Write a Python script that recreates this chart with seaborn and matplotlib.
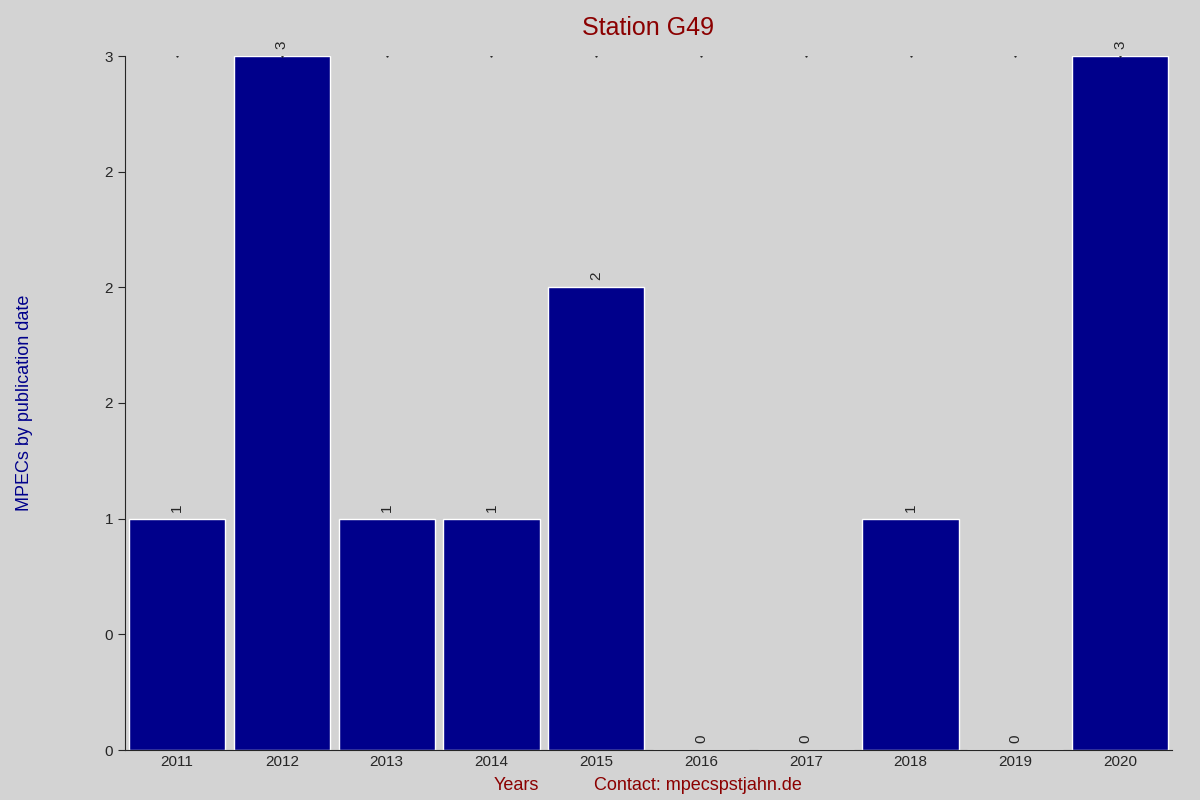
import matplotlib
matplotlib.use("Agg")
import matplotlib.pyplot as plt
import seaborn as sns
import pandas as pd

years = ["2011","2012","2013","2014","2015","2016","2017","2018","2019","2020"]
counts = [1,3,1,1,2,0,0,1,0,3]
ytick_vals = [0,0.5,1,1.5,2,2.5,3]
ytick_labels = ["0","0","1","2","2","2","3"]

sns.set_style("ticks")
plt.rcParams['font.family'] = ['Liberation Sans', 'DejaVu Sans']
df = pd.DataFrame({"year": years, "count": counts})

fig = plt.figure(figsize=(12, 8), dpi=100, facecolor="#d3d3d3")
ax = fig.add_axes([0.104, 0.0625, 0.873, 0.8675])
ax.set_facecolor("#d3d3d3")
sns.barplot(data=df, x="year", y="count", color="#00008b", width=0.92, ax=ax, saturation=1)
ax.set_ylim(0, 3)
ax.set_xlim(-0.5, len(years)-0.5)
ax.set_yticks(ytick_vals)
ax.set_yticklabels(ytick_labels, fontsize=11)
ax.tick_params(axis="x", labelsize=11, length=0)
ax.tick_params(axis="y", length=5)
for s in ["top", "right"]:
    ax.spines[s].set_visible(False)
for i, v in enumerate(counts):
    ax.text(i, v + 0.03, str(v), rotation=90, ha="center", va="bottom", fontsize=11)
    ax.plot(i, 3, marker=".", color="black", markersize=1)
ax.set_xlabel("")
ax.set_ylabel("MPECs by publication date", color="#00008b", fontsize=13, labelpad=0)
ax.yaxis.set_label_coords(-0.088, 0.5)
fig.text(0.54, 0.965, "Station G49", ha="center", va="center", color="#8b0000", fontsize=18)
fig.text(0.43, 0.018, "Years", ha="center", va="center", color="#8b0000", fontsize=13)
fig.text(0.582, 0.018, "Contact: mpecspstjahn.de", ha="center", va="center", color="#8b0000", fontsize=13)
fig.savefig("out.png", dpi=100, facecolor=fig.get_facecolor())
